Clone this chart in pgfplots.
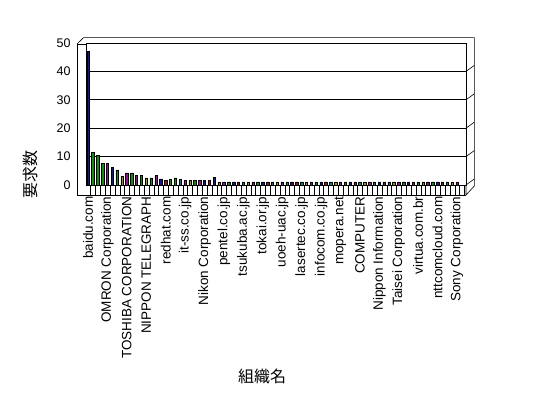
\documentclass[border=0pt]{standalone}
\usepackage{fontspec}
\setmainfont{Liberation Sans}
\newfontfamily\jp{Noto Sans CJK JP}
\usepackage{pgfplots}
\pgfplotsset{compat=1.18}
\definecolor{cB}{RGB}{20,20,150}
\definecolor{cG}{RGB}{20,140,20}
\definecolor{cP}{RGB}{140,20,140}
\definecolor{cY}{RGB}{150,150,0}
\definecolor{cR}{RGB}{150,20,20}
\definecolor{cT}{RGB}{0,130,130}
\pgfplotsset{mybar/.style={ybar, bar width=2.4pt, bar shift=0pt, draw=black, line width=0.5pt}}
\begin{document}
\begin{tikzpicture}[x=1pt,y=1pt]
\begin{axis}[
  scale only axis, width=380pt, height=142pt,
  xmin=-0.412, xmax=77.86, ymin=0, ymax=50,
  axis line style={black, line width=0.6pt},
  ytick={0,10,...,50}, ymajorgrids, grid style={black, line width=0.6pt},
  xtick={0,4,...,76},
  xticklabels={baidu.com, OMRON Corporation, TOSHIBA CORPORATION, NIPPON TELEGRAPH, redhat.com, it-ss.co.jp, Nikon Corporation, pentel.co.jp, tsukuba.ac.jp, tokai.or.jp, uoeh-uac.jp, lasertec.co.jp, infocom.co.jp, mopera.net, COMPUTER, Nippon Information, Taisei Corporation, virtua.com.br, nttcomcloud.com, Sony Corporation},
  minor xtick={0.556,1.556,...,77.6},
  xtick pos=bottom, ytick pos=left,
  tick align=outside, major tick length=0pt, minor tick length=10pt,
  every minor tick/.style={black, line width=0.6pt},
  /pgf/number format/assume math mode=true,
  yticklabel style={font=\fontsize{12.5}{14}\selectfont},
  xticklabel style={rotate=90, anchor=east, font=\fontsize{13.5}{15}\selectfont},
  xticklabel shift=8pt,
  yticklabel shift=12pt,
]
\coordinate (SW) at (rel axis cs:0,0);
\addplot[mybar, fill=cB] coordinates {(0,47) (5,6.3) (15,2.2) (24,1.5) (26,2.6) (30,1.1) (36,1.1) (42,1.1) (48,1.1) (54,1.1) (60,1.1) (66,1.1) (72,1.1)};
\addplot[mybar, fill=cG] coordinates {(1,11.4) (2,10.3) (3,7.5) (6,5.3) (9,4.3) (11,3.3) (13,2.5) (17,2) (18,2.5) (22,1.5) (29,1.1) (35,1.1) (41,1.1) (47,1.1) (53,1.1) (59,1.1) (65,1.1) (71,1.1)};
\addplot[mybar, fill=cP] coordinates {(4,7.5) (8,4.3) (10,3.3) (14,3.3) (20,1.5) (23,1.5) (28,1.1) (34,1.1) (40,1.1) (46,1.1) (52,1.1) (58,1.1) (64,1.1) (70,1.1) (76,1.1)};
\addplot[mybar, fill=cY] coordinates {(7,3) (12,2.5) (21,1.5) (27,1.1) (33,1.1) (39,1.1) (45,1.1) (51,1.1) (57,1.1) (63,1.1) (69,1.1) (75,1.1)};
\addplot[mybar, fill=cR] coordinates {(16,1.5) (25,1.5) (31,1.1) (37,1.1) (43,1.1) (49,1.1) (55,1.1) (61,1.1) (67,1.1) (73,1.1)};
\addplot[mybar, fill=cT] coordinates {(19,2) (32,1.1) (38,1.1) (44,1.1) (50,1.1) (56,1.1) (62,1.1) (68,1.1) (74,1.1)};
\end{axis}
\pgfresetboundingbox
\begin{scope}[shift={(SW)}, xshift=-86pt, yshift=-213pt]
\path[use as bounding box] (0,0) rectangle (548,398);
% 3D frame decoration
\begin{scope}[line width=0.6pt, black]
\draw (77,354) -- (77,203) -- (466,203);
\draw (77,354) -- (86,354);
\draw (77,354) -- (83.5,360.3) -- (474.3,360.3) -- (474.3,212) -- (466,203) -- (466,213);
\foreach \g in {213,241.4,269.8,298.2,326.6} \draw (466,\g) -- (474.3,\g+6);
\end{scope}
\node[font=\jp\fontsize{16}{16}\selectfont] at (262,22) {組織名};
\node[font=\jp\fontsize{16}{16}\selectfont, rotate=90] at (30,223) {要求数};
\end{scope}
\end{tikzpicture}
\end{document}
